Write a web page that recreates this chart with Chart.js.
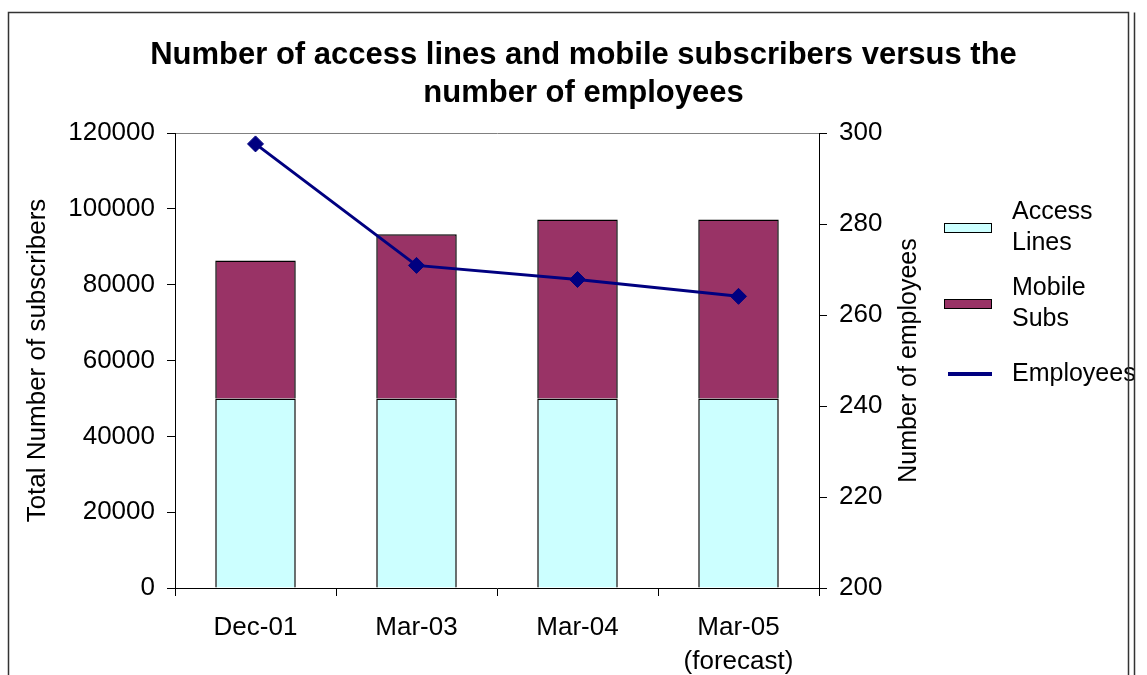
<!doctype html>
<html>
<head>
    <title>Access lines vs employees</title>
    <meta charset="utf-8">
    <style>
        body {
            background: #fff;
            margin: 0;
        }

        .output__chart {
            display: block;
        }
    </style>
    <script src="https://cdn.jsdelivr.net/npm/chart.js@4/dist/chart.umd.min.js"></script>
    <script>
        let categories = ["Dec-01", "Mar-03", "Mar-04", ["Mar-05", "(forecast)"]];
        let accessLines = [50000, 50000, 50000, 50000];
        let mobileSubs = [36400, 43300, 47200, 47200];
        let employees = [297.6, 270.9, 267.8, 264.1];

        let subscriberTicks = [0, 120000, 20000];
        let employeeTicks = [200, 300, 20];

        let titleText = ["Number of access lines and mobile subscribers versus the", "number of employees"];

        window.addEventListener("DOMContentLoaded", function () {
            "use strict";

            let font = "'Liberation Sans', Arial, sans-serif";
            Chart.defaults.font.family = font;
            Chart.defaults.color = "#000";

            let plain = function (value) {
                return String(value);
            };

            // legend, right axis title and the outer frame are drawn by hand,
            // Excel puts them where chart.js won't
            let extras = {
                id: "extras",
                afterDraw: function (chart) {
                    let ctx = chart.ctx;
                    let area = chart.chartArea;
                    ctx.save();

                    // right axis title, reads bottom to top
                    ctx.translate(909, (area.top + area.bottom) / 2);
                    ctx.rotate(-Math.PI / 2);
                    ctx.font = "25px " + font;
                    ctx.fillStyle = "#000";
                    ctx.textAlign = "center";
                    ctx.textBaseline = "middle";
                    ctx.fillText("Number of employees", 0, 0);
                    ctx.setTransform(1, 0, 0, 1, 0, 0);

                    let rows = [228, 304, 374];
                    ctx.textAlign = "left";
                    chart.data.datasets.forEach(function (ds, i) {
                        let y = rows[i];
                        if (ds.type === "line") {
                            ctx.fillStyle = ds.borderColor;
                            ctx.fillRect(948, y - 2, 44, 4);
                        } else {
                            ctx.fillStyle = ds.backgroundColor;
                            ctx.fillRect(944, y - 5, 48, 10);
                            ctx.strokeStyle = "#000";
                            ctx.lineWidth = 1;
                            ctx.strokeRect(944.5, y - 4.5, 47, 9);
                        }
                        ctx.fillStyle = "#000";
                        let words = ds.label.split(" ");
                        let lh = 31;
                        let y0 = y - (words.length - 1) * lh / 2;
                        words.forEach(function (w, j) {
                            ctx.fillText(w, 1012, y0 + j * lh);
                        });
                    });

                    ctx.strokeStyle = "#333";
                    ctx.lineWidth = 1.5;
                    ctx.beginPath();
                    ctx.moveTo(8.5, 700);
                    ctx.lineTo(8.5, 12.5);
                    ctx.lineTo(1128.5, 12.5);
                    ctx.lineTo(1128.5, 700);
                    ctx.moveTo(1134.5, 12.5);
                    ctx.lineTo(1134.5, 700);
                    ctx.stroke();
                    ctx.restore();
                }
            };

            new Chart(document.querySelector("[data-output-chart]"), {
                data: {
                    labels: categories,
                    datasets: [
                        {
                            type: "bar",
                            label: "Access Lines",
                            data: accessLines,
                            backgroundColor: "#ccffff",
                            borderColor: "#000",
                            borderWidth: 1.5,
                            stack: "subs",
                            yAxisID: "y",
                            barPercentage: 0.5,
                            categoryPercentage: 1,
                            order: 2,
                        },
                        {
                            type: "bar",
                            label: "Mobile Subs",
                            data: mobileSubs,
                            backgroundColor: "#993366",
                            borderColor: "#000",
                            borderWidth: 1.5,
                            stack: "subs",
                            yAxisID: "y",
                            barPercentage: 0.5,
                            categoryPercentage: 1,
                            order: 2,
                        },
                        {
                            type: "line",
                            label: "Employees",
                            data: employees,
                            borderColor: "#000080",
                            backgroundColor: "#000080",
                            borderWidth: 3,
                            pointStyle: "rectRot",
                            pointRadius: 8,
                            pointBorderWidth: 1,
                            yAxisID: "y2",
                            order: 1,
                        },
                    ],
                },
                options: {
                    responsive: false,
                    animation: false,
                    layout: {
                        padding: {left: 20, right: 0, top: 10, bottom: 0},
                    },
                    plugins: {
                        legend: {display: false},
                        tooltip: {enabled: false},
                        title: {
                            display: true,
                            text: titleText,
                            color: "#000",
                            font: {size: 31, weight: "bold", lineHeight: 38 / 31},
                            padding: {top: 26, bottom: 21},
                        },
                    },
                    scales: {
                        x: {
                            stacked: true,
                            grid: {
                                offset: true,
                                drawOnChartArea: false,
                                tickLength: 8,
                                tickColor: "#000",
                            },
                            border: {color: "#000", width: 1},
                            ticks: {
                                font: {size: 26, lineHeight: 34 / 26},
                                padding: 15,
                                maxRotation: 0,
                                autoSkip: false,
                            },
                            afterFit: function (scale) {
                                scale.height = 87;
                            },
                        },
                        y: {
                            position: "left",
                            stacked: true,
                            min: subscriberTicks[0],
                            max: subscriberTicks[1],
                            grid: {
                                color: function (c) {
                                    return c.tick && c.tick.value === subscriberTicks[1] ? "#808080" : "rgba(0,0,0,0)";
                                },
                                tickColor: "#000",
                                tickLength: 8,
                            },
                            border: {color: "#000", width: 1},
                            ticks: {
                                stepSize: subscriberTicks[2],
                                font: {size: 26},
                                padding: 12,
                                callback: plain,
                            },
                            title: {
                                display: true,
                                text: "Total Number of subscribers",
                                font: {size: 26},
                                padding: {top: 2, bottom: 0},
                            },
                            afterFit: function (scale) {
                                scale.width = 155;
                            },
                        },
                        y2: {
                            position: "right",
                            min: employeeTicks[0],
                            max: employeeTicks[1],
                            grid: {
                                drawOnChartArea: false,
                                tickColor: "#000",
                                tickLength: 8,
                            },
                            border: {color: "#000", width: 1},
                            ticks: {
                                stepSize: employeeTicks[2],
                                font: {size: 26},
                                padding: 12,
                                callback: plain,
                            },
                            afterFit: function (scale) {
                                scale.width = 328;
                            },
                        },
                    },
                },
                plugins: [extras],
            });
        });
    </script>
</head>
<body>
<canvas class="output__chart" data-output-chart width="1147" height="675"></canvas>
</body>
</html>
